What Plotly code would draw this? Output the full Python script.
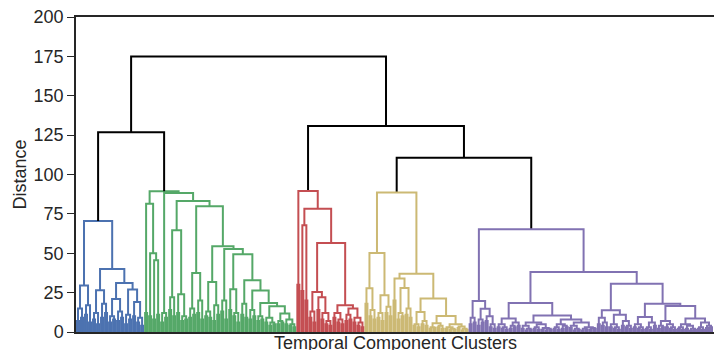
import plotly.graph_objects as go

# A leaf slot of the dendrogram; each slot holds two samples that merge
# at the matching distance in the cluster's *_TWIGS list (read left to right)
o = None

# Each internal node is [merge distance, left subtree, right subtree]
BLUE = [70.5,
        [29.6, [15, o, o], [17, o, o]],
        [40.0,
         [26.5, [12, o, o], [18, o, o]],
         [31.1,
          [21.0, [10, o, o], [13, o, o]],
          [27.0, [11, o, o], [19, o, [9, o, o]]]]]]
BLUE_TWIGS = [7, 9, 11, 6, 8, 5, 9, 12, 6, 8, 7, 9, 5, 8, 10, 6, 4]

# Right-hand staircase of the green cluster
GREEN_TAIL = [49.3,
              [27.1, o, [12, o, o]],
              [32.8,
               [18, o, o],
               [26.4,
                [14, o, o],
                [18.4,
                 [10, o, o],
                 [16.3,
                  [9, o, [6, o, o]],
                  [11.7, [7, o, o], [8, o, [5, o, o]]]]]]]]

GREEN = [89.3,
         [81.5, o, [50.0, o, [45.5, o, o]]],
         [88.3,
          [12, o, o],
          [83.2,
           [64.6, [22, o, o], [24, o, [10, o, o]]],
           [79.8,
            [37.5, [15, o, o], [20, o, o]],
            [54.4,
             [31.7, [13, o, o], [17, o, o]],
             [52.7, [20, o, o], GREEN_TAIL]]]]]]
GREEN_TWIGS = [12, 10, 8, 11, 6, 9, 14, 10, 12, 7, 8, 9, 11, 12, 8, 10, 9, 7, 11,
               13, 8, 14, 10, 6, 11, 9, 8, 10, 7, 8, 6, 4, 5, 5, 6, 5, 4, 3]

RED = [89.5,
       o,
       [78.3,
        [67.7, o, o],
        [56.5,
         [25.4, [13, o, o], [22, o, [12, o, [7, o, o]]]],
         [17.0, [12, o, [8, o, o]], [15, [11, o, o], [9, o, [6, o, o]]]]]]]
RED_TWIGS = [30, 26, 20, 9, 6, 14, 8, 5, 4, 9, 6, 5, 7, 8, 6, 4, 3]

YELLOW = [88.5,
          [50.2,
           [27.7, o, [14, o, o]],
           [23.3, [12, o, o], [16, o, o]]],
          [37.0,
           [33.9, o, [28, [12, o, o], [15, o, o]]],
           [21.2,
            [12.7, [5, o, o], [7, o, o]],
            [10.2,
             [5.5, [3, o, o], [4, o, o]],
             [4.9, [3, o, [2, o, o]], [3.5, o, [2, o, o]]]]]]]
YELLOW_TWIGS = [18, 10, 8, 9, 7, 12, 10, 20, 8, 10, 11, 9, 4, 3, 5, 4,
                2, 2.5, 3, 2, 2, 1.5, 1.5, 2.5, 1, 1.5]

PURPLE = [65.2,
          [19.7, [9, o, o], [14.8, [8, o, o], [10, o, [5, o, o]]]],
          [38.1,
           [18.4,
            [8.5, [5, o, [3, o, o]], [6, [4, o, o], o]],
            [10.5,
             [6, [4, o, [2, o, o]], [5, [3, o, o], [2.5, o, [2, o, o]]]],
             [8, [5, [3, o, o], [4, o, o]],
              [6, [4, o, [2, o, o]], [3, [2, o, o], [2.5, o, o]]]]]],
           [30.7,
            [13.8,
             [9, o, [6, o, o]],
             [11, [5, o, [3, o, o]], [7, o, [4, o, o]]]],
            [17.9,
             [9.5, [5, o, [3, o, o]], [6, [3, o, o], o]],
             [16.5,
              [7, [4, o, o], [5, o, [3, o, o]]],
              [8.5, [5, [3, o, o], [4, o, [2, o, o]]], [6, [3, o, o], [4, o, o]]]]]]]]
PURPLE_TWIGS = [5, 6, 4, 6, 7, 3, 2,
                3, 2, 1.5, 2, 3, 4,
                2, 1, 1.5, 2, 1.5, 1.5, 1, 1.5,
                2, 1.5, 2, 3, 2.5, 1, 1.5, 1, 1.5, 1.5, 2,
                5, 4, 3,
                3, 2, 1.5, 4, 3, 2,
                3, 2, 1.5, 2, 1.5, 4,
                2, 3, 3, 2, 1.5,
                2, 1.5, 2, 1, 1.5, 2, 1.5, 2.5, 3]

# Links above the flat clusters
TOP = [175.0,
       [126.8, "blue", "green"],
       [130.8, "red", [110.7, "yellow", "purple"]]]

CLUSTER_COLORS = {"blue": "#4C72B0", "green": "#55A868", "red": "#C44E52",
                  "yellow": "#CCB974", "purple": "#8172B2"}
CLUSTER_TREES = {"blue": (BLUE, BLUE_TWIGS), "green": (GREEN, GREEN_TWIGS),
                 "red": (RED, RED_TWIGS), "yellow": (YELLOW, YELLOW_TWIGS),
                 "purple": (PURPLE, PURPLE_TWIGS)}
LINK_COLOR = "black"

Y_TICKS = [0, 25, 50, 75, 100, 125, 150, 175, 200]

segments = {}
leaf_counter = [0]


def add_link(color, xl, hl, xr, hr, h):
    xs, ys = segments.setdefault(color, ([], []))
    xs += [xl, xl, xr, xr, None]
    ys += [hl, h, h, hr, None]


def new_leaf():
    x = 5 + 10 * leaf_counter[0]
    leaf_counter[0] += 1
    return x


def place(node, color, twigs):
    """Lay out a subtree: leaves at 5, 15, 25, ... and parents at the midpoint."""
    if node is None:
        h = next(twigs)
        xl, xr = new_leaf(), new_leaf()
        add_link(color, xl, 0.0, xr, 0.0, h)
        return (xl + xr) / 2, h
    h, left, right = node
    xl, hl = place(left, color, twigs)
    xr, hr = place(right, color, twigs)
    add_link(color, xl, hl, xr, hr, h)
    return (xl + xr) / 2, h


def place_top(node):
    if isinstance(node, str):
        tree, twigs = CLUSTER_TREES[node]
        return place(tree, CLUSTER_COLORS[node], iter(twigs))
    h, left, right = node
    xl, hl = place_top(left)
    xr, hr = place_top(right)
    add_link(LINK_COLOR, xl, hl, xr, hr, h)
    return (xl + xr) / 2, h


place_top(TOP)
n_leaves = leaf_counter[0]

fig = go.Figure()
for color, (xs, ys) in segments.items():
    fig.add_trace(go.Scatter(x=xs, y=ys, mode="lines",
                             line=dict(color=color, width=2),
                             hoverinfo="skip", showlegend=False))

FONT = "Arial, 'Liberation Sans', sans-serif"
INK = "#262626"

fig.update_layout(
    width=714, height=350,
    margin=dict(l=76, r=0, t=17, b=18),
    plot_bgcolor="white", paper_bgcolor="white",
    font=dict(family=FONT, size=18, color=INK),
    xaxis=dict(range=[0, 10 * n_leaves + 5], showticklabels=False, ticks="",
               showgrid=False, zeroline=False, showline=True,
               linecolor=INK, linewidth=1.5, mirror=True),
    yaxis=dict(range=[0, 200], tickvals=Y_TICKS, ticks="outside", ticklen=7,
               tickwidth=1.3, tickcolor=INK, showgrid=False, zeroline=False,
               showline=True, linecolor=INK, linewidth=1.5,
               tickfont=dict(family=FONT, size=18, color=INK)),
    annotations=[
        dict(text="Temporal Component Clusters", xref="paper", yref="paper",
             x=0.5, y=0, xanchor="center", yanchor="top", yshift=1,
             showarrow=False, font=dict(family=FONT, size=18, color=INK)),
        dict(text="Distance", xref="paper", yref="paper", x=0, y=0.5,
             xanchor="center", yanchor="middle", xshift=-57, textangle=-90,
             showarrow=False, font=dict(family=FONT, size=18, color=INK)),
    ],
)

fig.write_html("out.html")
